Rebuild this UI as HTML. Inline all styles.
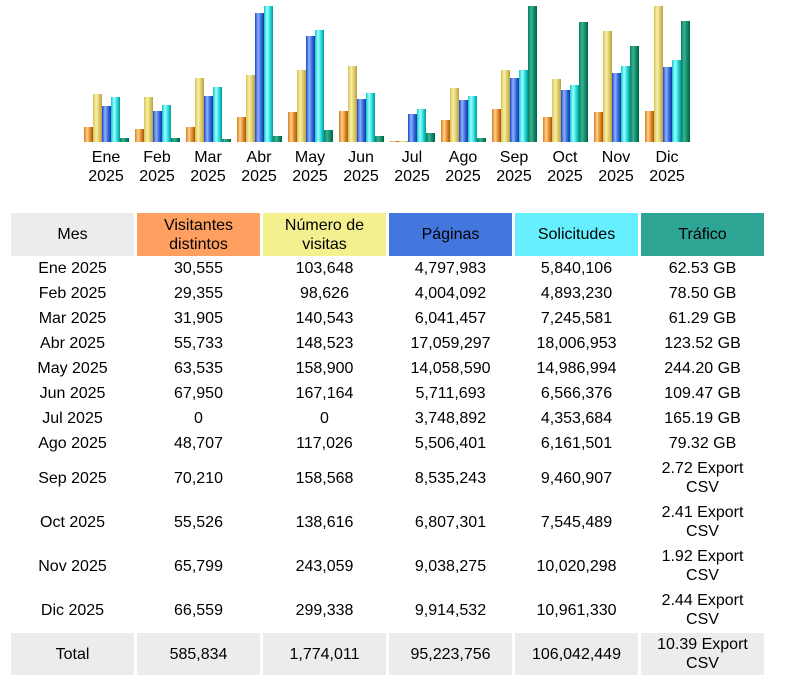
<!DOCTYPE html>
<html><head><meta charset="utf-8"><style>
body{margin:0;width:792px;height:689px;background:#fff;font-family:"Liberation Sans",sans-serif;font-size:16px;color:#000;position:relative;overflow:hidden}
.b{position:absolute;width:9px}
.o{background:linear-gradient(90deg,#d98018,#ffd090 35%,#e89030 65%,#a05808)}
.y{background:linear-gradient(90deg,#d8c050,#f8f0a8 35%,#e0d070 65%,#b8a040)}
.u{background:linear-gradient(90deg,#1848c8,#90b0ff 35%,#4070e0 65%,#0838a8)}
.c{background:linear-gradient(90deg,#10c8c8,#a0ffff 35%,#30e0e0 65%,#009898)}
.g{background:linear-gradient(90deg,#008060,#40b090 35%,#109070 65%,#006040)}
.lb{position:absolute;width:60px;text-align:center;line-height:19px;top:148px}
table{position:absolute;left:8px;top:213px;border-collapse:separate;border-spacing:3px 0}
td{width:123px;padding:0;text-align:center;line-height:19px;height:25px}
tr.h td{height:43px}
tr.d td{height:44px}
tr.t td{height:42px;background:#ececec}
</style></head><body>
<div id="bars"></div>
<script>
var d=[[15,48,36,45,4],[13,45,31,37,4],[15,64,46,55,3],[25,67,129,136,6],[30,72,106,112,12],[31,76,43,49,6],[1,1,28,33,9],[22,54,42,46,4],[33,72,64,72,136],[25,63,52,57,120],[30,111,69,76,96],[31,136,75,82,121]];
var m=["Ene","Feb","Mar","Abr","May","Jun","Jul","Ago","Sep","Oct","Nov","Dic"];
var cl=["o","y","u","c","g"],h="";
for(var i=0;i<12;i++){var x=84+i*51;for(var j=0;j<5;j++){h+='<div class="b '+cl[j]+'" style="left:'+(x+j*9)+'px;top:'+(142-d[i][j])+'px;height:'+d[i][j]+'px"></div>';}
h+='<div class="lb" style="left:'+(x-8)+'px">'+m[i]+'<br>2025</div>';}
document.getElementById("bars").innerHTML=h;
</script>
<table>
<tr class="h"><td style="background:#ececec">Mes</td><td style="background:#ffa060">Visitantes<br>distintos</td><td style="background:#f4f090">Número de<br>visitas</td><td style="background:#4477dd">Páginas</td><td style="background:#66f0ff">Solicitudes</td><td style="background:#2ea495">Tráfico</td></tr>
<tr><td>Ene 2025</td><td>30,555</td><td>103,648</td><td>4,797,983</td><td>5,840,106</td><td>62.53 GB</td></tr>
<tr><td>Feb 2025</td><td>29,355</td><td>98,626</td><td>4,004,092</td><td>4,893,230</td><td>78.50 GB</td></tr>
<tr><td>Mar 2025</td><td>31,905</td><td>140,543</td><td>6,041,457</td><td>7,245,581</td><td>61.29 GB</td></tr>
<tr><td>Abr 2025</td><td>55,733</td><td>148,523</td><td>17,059,297</td><td>18,006,953</td><td>123.52 GB</td></tr>
<tr><td>May 2025</td><td>63,535</td><td>158,900</td><td>14,058,590</td><td>14,986,994</td><td>244.20 GB</td></tr>
<tr><td>Jun 2025</td><td>67,950</td><td>167,164</td><td>5,711,693</td><td>6,566,376</td><td>109.47 GB</td></tr>
<tr><td>Jul 2025</td><td>0</td><td>0</td><td>3,748,892</td><td>4,353,684</td><td>165.19 GB</td></tr>
<tr><td>Ago 2025</td><td>48,707</td><td>117,026</td><td>5,506,401</td><td>6,161,501</td><td>79.32 GB</td></tr>
<tr class="d"><td>Sep 2025</td><td>70,210</td><td>158,568</td><td>8,535,243</td><td>9,460,907</td><td>2.72 Export<br>CSV</td></tr>
<tr class="d"><td>Oct 2025</td><td>55,526</td><td>138,616</td><td>6,807,301</td><td>7,545,489</td><td>2.41 Export<br>CSV</td></tr>
<tr class="d"><td>Nov 2025</td><td>65,799</td><td>243,059</td><td>9,038,275</td><td>10,020,298</td><td>1.92 Export<br>CSV</td></tr>
<tr class="d"><td>Dic 2025</td><td>66,559</td><td>299,338</td><td>9,914,532</td><td>10,961,330</td><td>2.44 Export<br>CSV</td></tr>
<tr><td colspan="6" style="height:1px"></td></tr>
<tr class="t"><td>Total</td><td>585,834</td><td>1,774,011</td><td>95,223,756</td><td>106,042,449</td><td>10.39 Export<br>CSV</td></tr>
</table>
</body></html>
